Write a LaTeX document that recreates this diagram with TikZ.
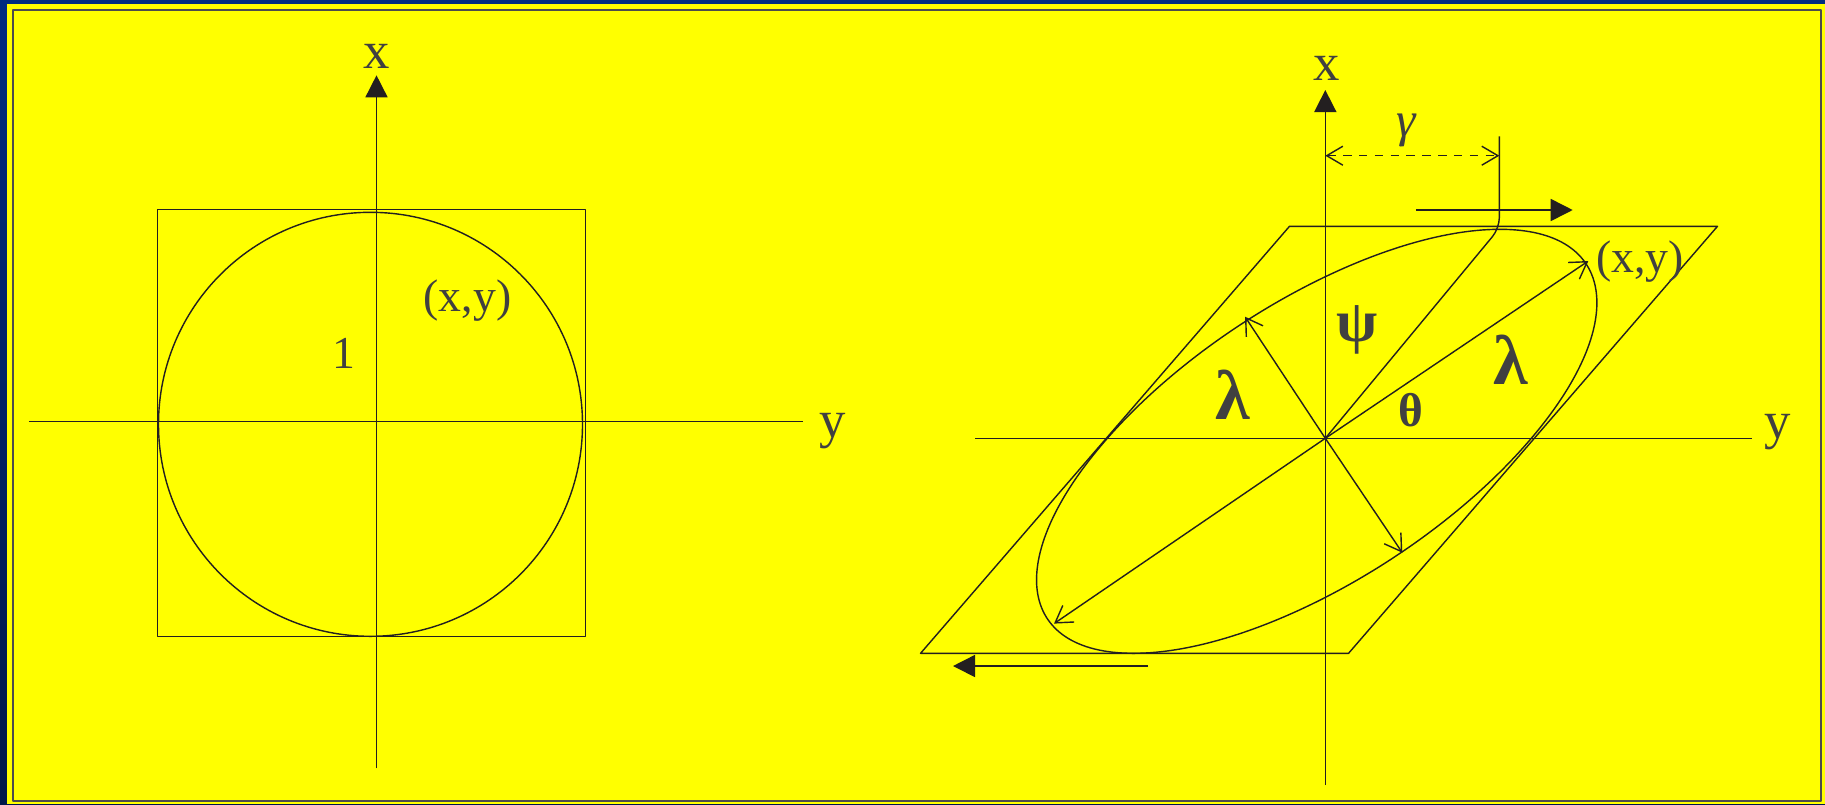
\documentclass[tikz,border=0pt]{standalone}
\usepackage{fontspec}
\setmainfont{Liberation Serif}
\usetikzlibrary{arrows.meta}
\definecolor{frameblue}{RGB}{0,44,128}
\definecolor{framedark}{RGB}{0,24,72}
\definecolor{paper}{RGB}{255,255,0}
\definecolor{ink}{RGB}{35,31,32}
\definecolor{txt}{RGB}{64,64,64}
\begin{document}
\begin{tikzpicture}[line join=round,line cap=butt,
	axis/.style={ink,line width=0.45pt},
	curve/.style={ink,line width=0.4pt},
	bigtip/.style={-{Triangle[length=2.2mm,width=2.2mm]}},
	barb/.style={-{Straight Barb[length=4.6pt,width=5.7pt]}},
	axlbl/.style={text=txt,font=\fontsize{15}{18}\selectfont},
	ptlbl/.style={text=txt,font=\fontsize{13}{16}\selectfont},
	greek/.style={text=txt,font=\fontsize{13.5}{16}\selectfont\bfseries},
	biggreek/.style={text=txt,font=\fontsize{20}{24}\selectfont\bfseries}]
	\useasboundingbox (0,0) rectangle (18.25,8.04);
	% Background and frame
	\shade[top color=frameblue,bottom color=framedark] (0,0) rectangle (18.25,8.04);
	\fill[paper] (0.07,0) rectangle (18.25,8.00);
	\draw[black!70,line width=0.6pt] (0.13,0.03) rectangle (18.21,7.94);
	
	% Left picture: unit circle in a square
	\begin{scope}[shift={(3.765,3.827)}]
		\draw[axis,bigtip] (0,-3.47) -- (0,3.46);
		\node[axlbl] (xL) at (0,3.653) {x};
		\draw[axis] (-3.475,0) -- (4.265,0);
		\node[axlbl,anchor=base] (yL) at (4.565,-0.16) {y};
		\draw[curve] (-2.19,-2.15) rectangle (2.09,2.12);
		\draw[curve] (-0.06,-0.03) circle (2.12);
		\node[ptlbl] (pL) at (0.91,1.203) {(x,y)};
		\node[ptlbl] (oneL) at (-0.325,0.683) {1};
	\end{scope}
	
	% Right picture: the same after the shear
	\begin{scope}[shift={(13.253,3.657)}]
		\coordinate (O) at (0,0);
		\draw[axis,bigtip] (0,-3.467) -- (0,3.483);
		\node[axlbl] (xR) at (0.01,3.703) {x};
		\draw[axis] (-3.50,0) -- (4.27,0);
		\node[axlbl,anchor=base] (yR) at (4.52,0) {y};
		% sheared square and circle
		\begin{scope}[xslant=0.864]
			\draw[curve] (-2.19,-2.15) rectangle (2.09,2.12);
			\draw[curve] (-0.06,-0.03) circle (2.12);
		\end{scope}
		% shear distance gamma
		\coordinate (T) at (1.74,2.10);
		\coordinate (G) at (1.74,3.02);
		\coordinate (ga) at (0,2.826);
		\coordinate (gb) at (1.74,2.826);
		\draw[curve,rounded corners=3pt] (O) -- (T) -- (G);
		\draw[curve,dash pattern=on 2.4pt off 2.1pt,
			{Straight Barb[length=4.6pt,width=5.4pt]}-{Straight Barb[length=4.6pt,width=5.4pt]}] (ga) -- (gb);
		\node[ptlbl,font=\fontsize{14}{16}\selectfont\itshape] (gam) at (0.806,3.083) {γ};
		% shear directions
		\coordinate (ta) at (0.907,2.283);
		\coordinate (tb) at (2.474,2.283);
		\coordinate (ba) at (-1.773,-2.277);
		\coordinate (bb) at (-3.723,-2.277);
		\draw[axis,bigtip] (ta) -- (tb);
		\draw[axis,bigtip] (ba) -- (bb);
		% axes of the ellipse
		\coordinate (P) at (2.63,1.773);
		\coordinate (Q) at (-2.713,-1.853);
		\coordinate (U) at (-0.803,1.216);
		\coordinate (V) at (0.77,-1.144);
		\foreach \p in {P,Q,U,V}
		\draw[curve,barb] (O) -- (\p);
		\node[ptlbl] (pR) at (3.147,1.766) {(x,y)};
		\node[greek,font=\fontsize{17}{20}\selectfont\bfseries] (psi) at (0.32,1.083) {ψ};
		\node[biggreek] (lamA) at (1.854,0.783) {λ};
		\node[biggreek] (lamB) at (-0.93,0.433) {λ};
		\node[greek] (theta) at (0.854,0.283) {θ};
	\end{scope}
\end{tikzpicture}
\end{document}
